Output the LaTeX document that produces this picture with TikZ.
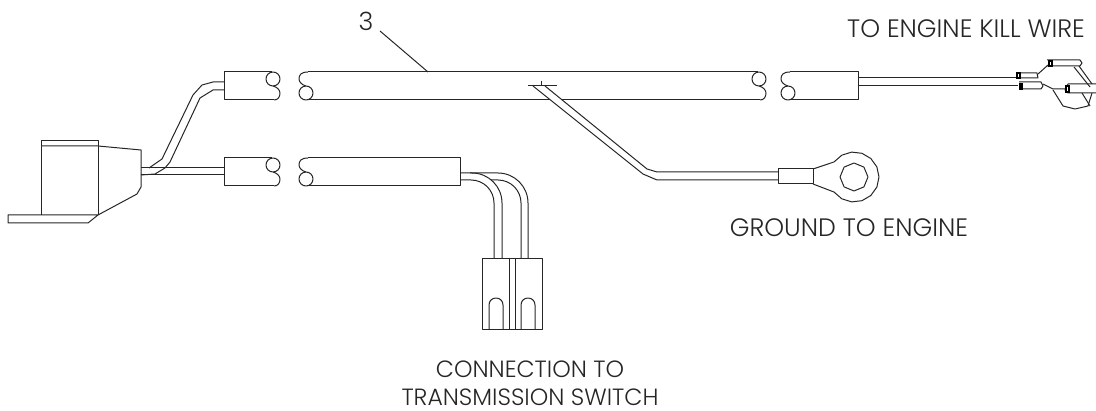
\documentclass[tikz,border=0pt]{standalone}
\usepackage{fontspec}
\setmainfont{Poppins}[UprightFont=* Light]

\begin{document}
\begin{tikzpicture}[x=1pt,y=-1pt]
\tikzset{wire/.style={draw=black!85,line width=1pt}}
\tikzset{hardware/.style={draw=black!85,line width=1pt,line join=round}}
\tikzset{termblob/.style={draw=black,line width=1.6pt}}
\tikzset{callout/.style={font=\fontsize{23.5}{28}\selectfont,text=black!85,inner sep=0pt,anchor=center}}
\tikzset{calloutwide/.style={callout,font=\fontsize{25.2}{30}\selectfont}}

\useasboundingbox (0,0) rectangle (1096,411);

% jacket ends, broken on the right
\foreach \x/\y in {272/72,272/158,758/72} {
  \path[hardware] (\x+1,\y+7) circle (7);
  \path[hardware] (\x+1,\y+14) .. controls (\x+5,\y+15) and (\x+8,\y+18) .. (\x+8,\y+21) .. controls (\x+8,\y+25) and (\x+6,\y+28) .. (\x+2,\y+28);
}
% jacket ends, broken on the left
\foreach \x/\y in {306/72,306/158,788/72} {
  \path[hardware] (\x,\y+21) circle (7);
  \path[hardware] (\x,\y+14) .. controls (\x-4,\y+13) and (\x-7,\y+10) .. (\x-7,\y+7) .. controls (\x-7,\y+3) and (\x-5,\y) .. (\x+2,\y);
}

% jackets
\path[hardware] (272,72) -- (224,72) -- (224,100) -- (274,100);
\path[hardware] (272,158) -- (224,158) -- (224,186) -- (274,186);
\path[hardware] (308,72) -- (758,72);
\path[hardware] (307,100) -- (550,100);
\path[hardware] (562,100) -- (760,100);
\path[hardware] (308,158) -- (460,158) -- (460,186) -- (307,186);
\path[hardware] (790,72) -- (858,72) -- (858,100) -- (789,100);

% bracket
\path[hardware] (41,215) -- (41,141) -- (98,141) -- (98,215);
\path[hardware] (41,146) -- (98,146) -- (141,150) -- (141,187) -- (137,194) -- (98,215);
\path[hardware] (98,215) -- (8,215) -- (8,223) -- (88,223) -- cycle;

% wires out of the bracket
\path[wire] (141,168) -- (224,168);
\path[wire] (141,175) -- (224,175);
\path[wire] (149,168) -- (162,159) -- (193,95) -- (202,85) -- (213,82) -- (224,82);
\path[wire] (141,175) -- (155,174) -- (165,168) -- (170,162) -- (200,98) -- (213,90) -- (224,90);

% wires to the switch
\path[wire,rounded corners=30pt] (460,173) -- (502,173) -- (502,259);
\path[wire,rounded corners=23pt] (460,180) -- (494,180) -- (494,259);
\path[wire,rounded corners=30pt] (470,173) -- (528,173) -- (528,259);
\path[wire,rounded corners=23pt] (491,180) -- (521,180) -- (521,259);

% switch plug
\path[hardware] (482,259) rectangle (542,330);
\foreach \x in {509,515} {
  \path[hardware] (\x,259) -- (\x,330);
}
\foreach \x in {489,521} {
  \path[hardware] (\x,330) -- (\x,305) .. controls (\x,301) and (\x+3,298) .. (\x+7,298) .. controls (\x+11,298) and (\x+14,301) .. (\x+14,305) -- (\x+14,330);
}

% ground branch
\path[hardware] (528,86) -- (557,86);
\path[hardware] (541,81) -- (541,86);
\path[wire] (545,86) -- (647,169) -- (657,172) -- (778,172);
\path[wire] (533,86) -- (643,174) -- (657,180) -- (778,180);
\path[hardware] (778,169) rectangle (813,184);
\path[hardware] (813,169) -- plot[domain=143:-143,samples=13] ({854+25*cos(\x)},{177-25*sin(\x)}) -- (813,184);
\path[hardware] plot[domain=0:360,samples=9] ({854+14*cos(\x)},{177-14*sin(\x)});

% wires to the kill terminal
\path[wire] (858,78) -- (1016,78);
\path[wire] (858,86) -- (1018,86);

% kill terminal
\path[hardware] (1016,73) -- (1037,73) -- (1038,78) -- (1016,78);
\path[hardware] (1019,82) -- (1041,82) -- (1043,86) -- (1041,89) -- (1019,89);
\path[hardware] (1047,60) -- (1080,60) -- (1082,63) -- (1080,66) -- (1047,66);
\path[hardware] (1096,84) -- (1068,84) -- (1065,90) -- (1068,93) -- (1096,93);
\path[hardware] (1038,74) -- (1048,65);
\path[hardware] (1043,84) -- (1053,89) -- (1065,89);
\path[hardware] (1074,67) -- (1090,87);
\path[hardware] (1079,66) -- (1092,84);
\path[hardware] (1053,90) -- (1063,106) -- (1075,109) -- (1088,106) -- (1092,93);
\path[hardware] (1082,93) -- (1090,106);
\path[termblob] (1017,73) rectangle (1020,78);
\path[termblob] (1020,84) rectangle (1022,89);
\path[termblob] (1049,61) rectangle (1052,66);
\path[termblob] (1066,86) rectangle (1069,92);

% labels
\node[calloutwide] (partno) at (366,21) {3};
\coordinate (leadstart) at (380,31);
\coordinate (leadend) at (428,72);
\path[hardware] (leadstart) -- (leadend);
\node[calloutwide] (killlabel) at (966,29) {TO ENGINE KILL WIRE};
\node[calloutwide] (groundlabel) at (849,228) {GROUND TO ENGINE};
\node[callout] (switchlabel) at (530,369) {CONNECTION TO};
\node[callout] (switchlabelb) at (530,397) {TRANSMISSION SWITCH};
\end{tikzpicture}
\end{document}
